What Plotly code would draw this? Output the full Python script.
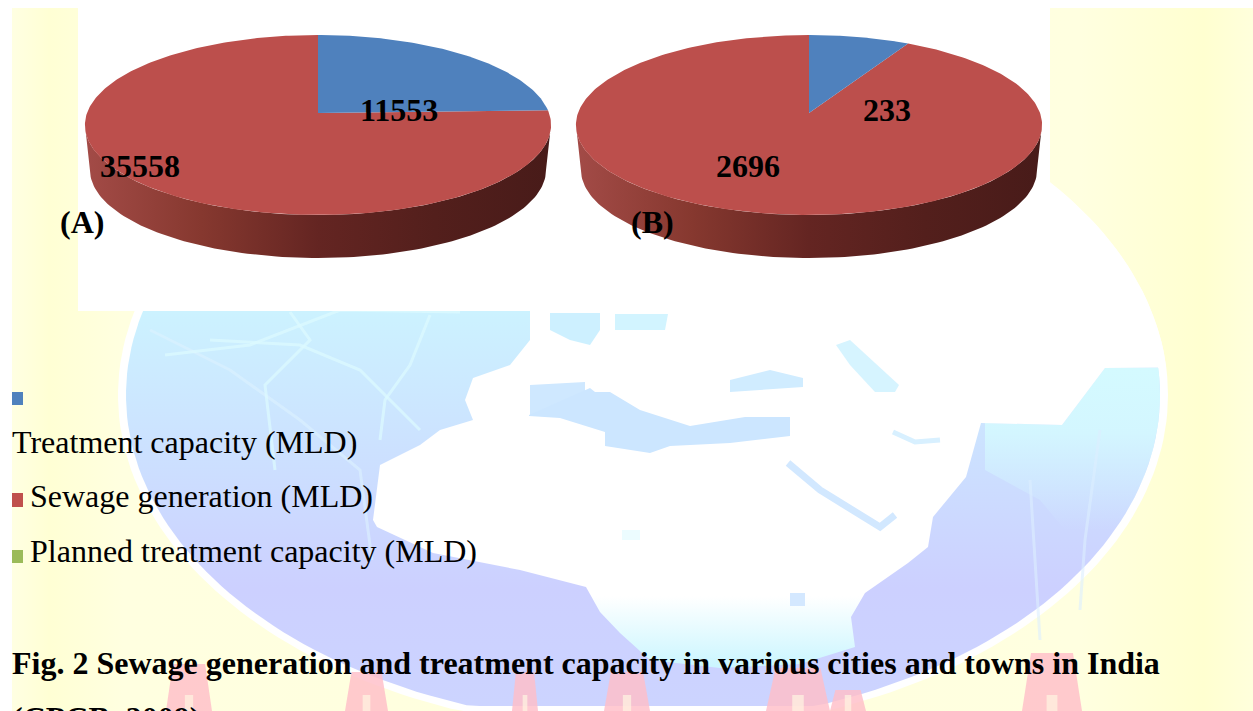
import numpy as np
import plotly.graph_objects as go

# ---- data ----
panels = ["(A)", "(B)"]
treatment_capacity = [11553, 233]
sewage_generation = [35558, 2696]
legend_labels = ["Treatment capacity (MLD)", "Sewage generation (MLD)", "Planned treatment capacity (MLD)"]
legend_colors = ["#4f81bd", "#c0504d", "#9bbb59"]
caption_1 = "Fig. 2 Sewage generation and treatment capacity in various cities and towns in India"
caption_2 = "(CPCB, 2009)"

# ---- style / layout ----
W, H = 1253, 711
FONT = "Liberation Serif"
pie_cx = [318, 809]
BLUE, RED = "#4f81bd", "#bc4f4c"
apex_y, a_y, persp, c_x = 113, 88.4, -0.1333, 231
gx, gy, ga, gb = 643, 395, 517, 330

fig = go.Figure()


def poly(xs, ys, color=None, grad=None):
    kw = dict(x=list(xs), y=list(ys), mode="lines", line=dict(width=0), fill="toself",
              hoverinfo="skip", showlegend=False)
    if grad:
        kw["fillgradient"] = grad
    else:
        kw["fillcolor"] = color
    fig.add_trace(go.Scatter(**kw))


def line(xs, ys, color, w=3):
    fig.add_trace(go.Scatter(x=list(xs), y=list(ys), mode="lines", line=dict(color=color, width=w),
                             hoverinfo="skip", showlegend=False))


def rect(x0, y0, x1, y1, color=None, grad=None):
    poly([x0, x1, x1, x0, x0], [y0, y0, y1, y1, y0], color, grad)


def gradient(kind, start, stop, stops):
    return dict(type=kind, start=start, stop=stop, colorscale=stops)


# ---- page background ----
rect(12, 8, W, H, grad=gradient("horizontal", 12, W, [
    [0, "#ffffe2"], [0.03, "#ffffd4"], [0.09, "#ffffe0"], [0.5, "#ffffde"],
    [0.86, "#ffffe0"], [0.96, "#ffffd0"], [1, "#ffffdc"]]))

# ---- globe watermark ----
t = np.linspace(0, 2 * np.pi, 240)
poly(gx + (ga + 8) * np.cos(t), np.minimum(gy + (gb + 7) * np.sin(t), 711), "#ffffff")
poly(gx + ga * np.cos(t), np.minimum(gy + gb * np.sin(t), 706), grad=gradient("vertical", 312, 706, [
    [0, "#ccf2ff"], [0.25, "#cce6ff"], [0.7, "#ccd0ff"], [1, "#ccd4ff"]]))

# pale cyan limb on the east side, bounded by the globe's edge
limb_y = np.linspace(368, 560, 30)
limb_x = gx + ga * np.sqrt(1 - ((limb_y - gy) / gb) ** 2)
poly(np.r_[[985, 1062, 1105], limb_x, [1090, 1040, 985]],
     np.r_[[423, 425, 368], limb_y, [560, 500, 470]],
     grad=gradient("vertical", 368, 530, [[0, "rgba(212,250,255,1)"], [0.4, "rgba(212,248,255,0.9)"],
                                          [1, "rgba(212,240,255,0)"]]))

# continents (white) fading to cyan at the southern end
arc = np.linspace(np.radians(-4.7), np.radians(-90), 40)
poly(np.r_[[530, 530, 510, 473, 465, 473, 440, 420, 380, 373, 377, 433, 520, 548, 586, 600, 620, 650, 720,
            800, 855, 851, 865, 908, 928, 933, 966, 981, 1062, 1105], gx + (ga + 8) * np.cos(arc), [530]],
     np.r_[[60, 340, 365, 378, 400, 420, 430, 445, 465, 520, 527, 553, 570, 577, 587, 612, 633, 660, 668,
            664, 647, 617, 593, 563, 547, 517, 477, 423, 425, 368], gy + (gb + 7) * np.sin(arc), [60]],
     grad=gradient("vertical", 540, 665, [[0, "#ffffff"], [0.45, "#ffffff"], [1, "#ccf6ff"]]))

# seas and gulfs on the land
poly([530, 585, 585, 530], [385, 382, 416, 416], "#cfe8ff")
poly([550, 600, 600, 590, 570, 550], [313, 313, 330, 345, 340, 330], "#cdf0ff")
poly([615, 668, 665, 640, 615], [314, 314, 330, 330, 330], "#d2f4ff")
poly([529, 590, 595, 610, 640, 690, 745, 790, 790, 730, 670, 650, 605, 605, 560, 529],
     [415, 388, 392, 392, 410, 426, 417, 417, 436, 443, 446, 453, 446, 432, 418, 416], "#cce6ff")
poly([730, 770, 803, 803, 760, 730], [380, 370, 378, 387, 390, 392], "#d0ecff")
poly([836, 850, 899, 895, 875, 850], [345, 340, 385, 392, 392, 365], "#d6f4ff")
line([788, 820, 880, 895], [463, 490, 527, 515], "#d2e8ff", 7)
line([893, 915, 940], [432, 442, 440], "#d8f0ff", 5)
poly([790, 805, 805, 790], [593, 593, 606, 606], "#d4e8ff")
poly([622, 640, 640, 622], [530, 530, 540, 540], "#ecfcff")

# graticule lines over the ocean
grid = "rgba(220,250,255,0.75)"
line([150, 230, 300, 360, 372], [330, 370, 420, 470, 560], "rgba(220,242,255,0.6)", 3)
line([210, 300, 360, 420], [340, 345, 370, 430], grid, 3)
line([290, 310, 265, 275], [312, 340, 385, 470], grid, 3)
line([430, 410, 385, 380], [315, 365, 400, 440], grid, 3)
line([165, 250, 340, 460], [355, 345, 310, 312], grid, 3)
line([1100, 1085, 1080], [430, 540, 610], "rgba(220,238,255,0.6)", 3)
line([1030, 1035, 1040], [480, 560, 640], "rgba(220,238,255,0.6)", 3)

# pale red letter forms of the watermark
pink = "rgba(255,190,200,0.82)"
inner = "rgba(255,245,225,0.7)"
for x0, x1, top in [(166, 212, 664), (345, 388, 672), (512, 538, 672), (604, 650, 672), (766, 830, 668),
                    (830, 866, 690), (1022, 1082, 653)]:
    xm = (x0 + x1) / 2
    dx = (x1 - x0) * 0.15
    poly([x0, x0 + dx, x1 - dx, x1, x0], [H, top, top, H, H], pink)
    poly([xm - dx * 0.6, xm + dx * 0.6, xm + dx * 0.6, xm - dx * 0.6], [H - 16, H - 16, H, H], inner)

# white page area behind the pies
rect(78, 8, 1050, 311, "#ffffff")
rect(0, 0, W, 8, "#ffffff")


# ---- pies: values -> rim points through a perspective projection of the disc ----
def rim(cx, th):
    u, v = np.sin(th), -np.cos(th)
    d = 1 + persp * v
    return cx + c_x * u / d, apex_y + a_y * v / d


for cx, tr, se in zip(pie_cx, treatment_capacity, sewage_generation):
    split = 2 * np.pi * tr / (tr + se)
    # side wall
    s = np.linspace(0, np.pi, 121)
    top_x = cx + 233 * np.cos(s)
    top_y = 125 + 90 * np.sin(s)
    bot_x = cx + 228 * np.cos(s)
    bot_y = 170 + 88 * np.sin(s)
    poly(np.r_[top_x, bot_x[::-1], top_x[0]], np.r_[top_y, bot_y[::-1], top_y[0]],
         grad=gradient("horizontal", cx - 233, cx + 233, [
             [0, "#a34b47"], [0.25, "#86382f"], [0.5, "#642522"], [0.75, "#531f1c"], [1, "#481b19"]]))
    # slices
    a = np.linspace(0, split, 100)
    b = np.linspace(split, 2 * np.pi, 300)
    bx, by = rim(cx, a)
    rx, ry = rim(cx, b)
    poly(np.r_[cx, rx, cx], np.r_[apex_y, ry, apex_y], RED)
    poly(np.r_[cx, bx, cx], np.r_[apex_y, by, apex_y], BLUE)

# legend swatches
for color, (y0, y1) in zip(legend_colors, [(392, 405), (493, 507), (550, 563)]):
    rect(12, y0, 23, y1, color)


def label(x, y, text, size, bold=False, anchor="center", yanchor="middle"):
    fig.add_annotation(x=x, y=y, text=f"<b>{text}</b>" if bold else text, showarrow=False, xanchor=anchor,
                       yanchor=yanchor, xref="x", yref="y", borderpad=0, borderwidth=0,
                       font=dict(family=FONT, size=size, color="#000000"))


# value labels
label(399, 110, str(treatment_capacity[0]), 32, True)
label(140, 166, str(sewage_generation[0]), 32, True)
label(887, 110, str(treatment_capacity[1]), 32, True)
label(748, 166, str(sewage_generation[1]), 32, True)
label(82, 222, panels[0], 32, True)
label(652, 222, panels[1], 32, True)

# legend text
label(12, 442, legend_labels[0], 32, anchor="left")
label(30, 496, legend_labels[1], 32, anchor="left")
label(30, 551, legend_labels[2], 32, anchor="left")

# caption
label(12, 663, caption_1, 32, True, anchor="left")
label(12, 700, caption_2, 32, True, anchor="left", yanchor="top")

fig.update_xaxes(range=[0, W], visible=False, fixedrange=True)
fig.update_yaxes(range=[H, 0], visible=False, fixedrange=True)
fig.update_layout(width=W, height=H, margin=dict(l=0, r=0, t=0, b=0), autosize=False,
                  paper_bgcolor="#ffffff", plot_bgcolor="#ffffff", showlegend=False)
fig.write_html("out.html", config=dict(displayModeBar=False),
               post_script="document.body.style.margin='0';document.body.style.overflow='hidden';")
